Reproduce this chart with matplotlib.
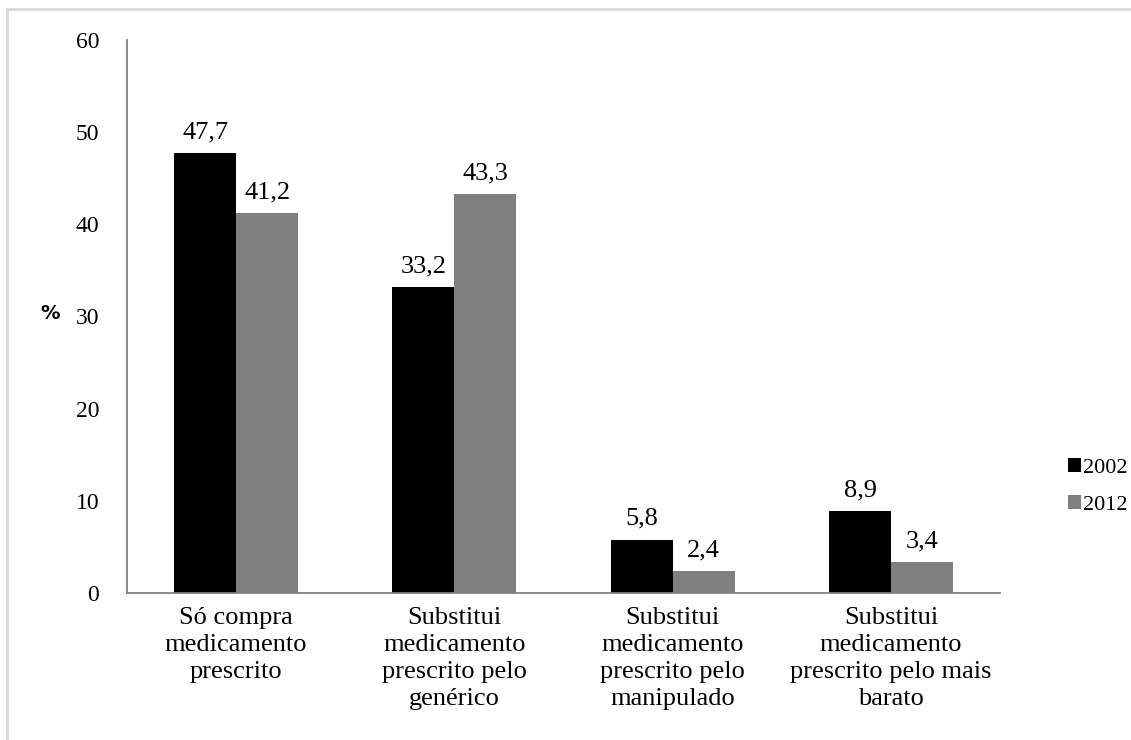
import numpy as np
import matplotlib.pyplot as plt
from matplotlib.patches import Rectangle

categories = ["Só compra\nmedicamento\nprescrito",
              "Substitui\nmedicamento\nprescrito pelo\ngenérico",
              "Substitui\nmedicamento\nprescrito pelo\nmanipulado",
              "Substitui\nmedicamento\nprescrito pelo mais\nbarato"]
v2002 = [47.7, 33.2, 5.8, 8.9]
v2012 = [41.2, 43.3, 2.4, 3.4]
years = ["2002", "2012"]

plt.rcParams['font.family'] = ['Liberation Serif', 'DejaVu Serif']

fig = plt.figure(figsize=(11.31, 7.4), dpi=100)
ax = fig.add_axes([0.1123, 0.1986, 0.772, 0.7474])

x = np.arange(len(categories))
w = 0.284
b1 = ax.bar(x - w/2, v2002, w, color='black', label=years[0])
b2 = ax.bar(x + w/2, v2012, w, color='#808080', label=years[1])

for bars, vals in ((b1, v2002), (b2, v2012)):
  for r, v in zip(bars, vals):
    ax.annotate(f"{v:.1f}".replace(".", ","), (r.get_x() + r.get_width()/2, v),
                xytext=(0, 7), textcoords='offset points', ha='center', va='bottom', fontsize=19)

ax.set_xlim(-0.5, 3.5)
ax.set_ylim(0, 60)
ax.set_yticks(range(0, 61, 10))
ax.set_xticks(x)
ax.set_xticklabels(categories, fontsize=19, linespacing=1.3)
ax.tick_params(axis='y', length=0, pad=20, labelsize=17)
ax.tick_params(axis='x', length=0, pad=10)
for s in ('top', 'right'):
  ax.spines[s].set_visible(False)
for s in ('left', 'bottom'):
  ax.spines[s].set_color('#808080')
  ax.spines[s].set_linewidth(1.3)

fig.text(0.044, 0.576, "%", fontsize=14, fontweight='bold', family='DejaVu Sans', ha='center', va='center')

leg = fig.legend(handles=[b1, b2], loc='center left', bbox_to_anchor=(0.944, 0.3426),
                 frameon=False, fontsize=16, handlelength=0.6, handleheight=0.6,
                 handletextpad=0.1, labelspacing=0.75, borderpad=0, borderaxespad=0)

# light gray frame around the chart area
fig.add_artist(Rectangle((0.0065, -0.01), 1.1, 0.998, transform=fig.transFigure,
                         fill=False, edgecolor='#d9d9d9', linewidth=2))

fig.savefig("out.png", dpi=100)
